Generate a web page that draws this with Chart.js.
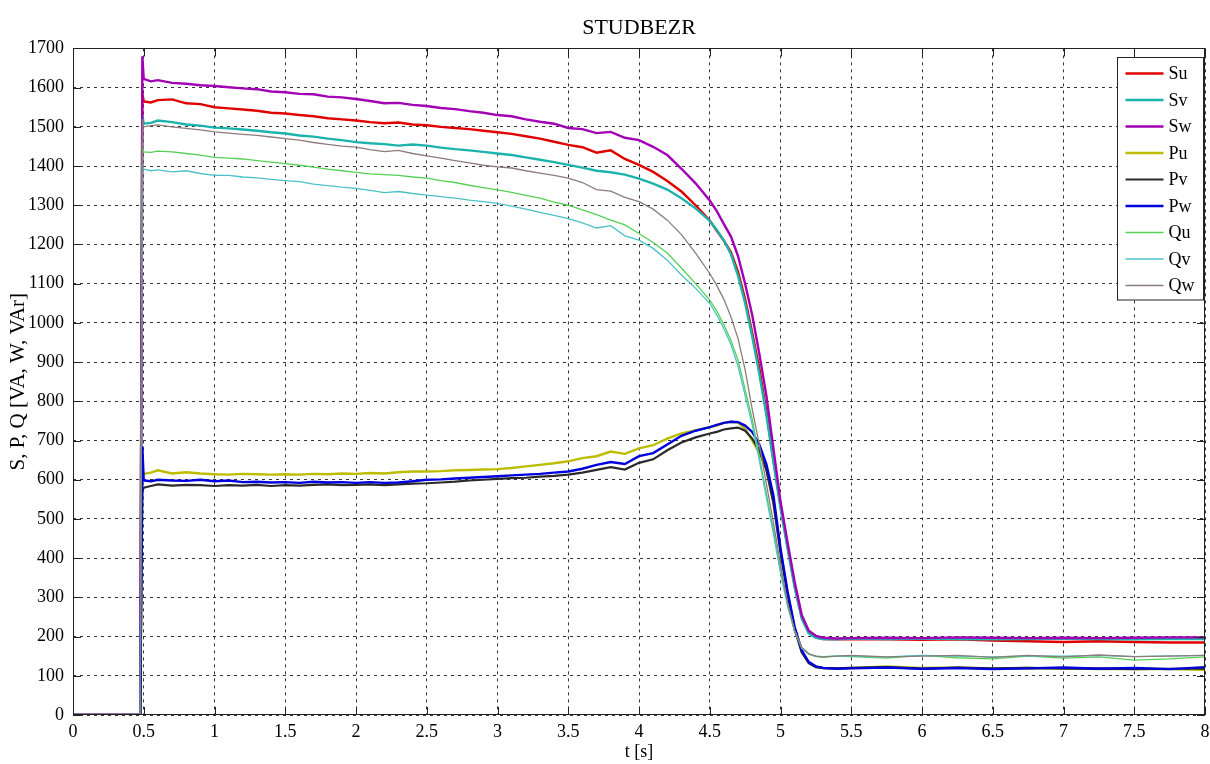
<!DOCTYPE html>
<html>
<head>
<meta charset="utf-8">
<script src="https://cdn.jsdelivr.net/npm/chart.js@4.4.0/dist/chart.umd.min.js"></script>
<style>
  html, body { margin: 0; padding: 0; background: #fff; }
</style>
</head>
<body>
<canvas id="powerChart" width="1210" height="764"></canvas>
<script>
// time axis [s]
const times = [
  0, 0.475, 0.49, 0.5, 0.55, 0.6, 0.7, 0.8, 0.9, 1.0,
  1.1, 1.2, 1.3, 1.4, 1.5, 1.6, 1.7, 1.8, 1.9, 2.0,
  2.1, 2.2, 2.3, 2.4, 2.5, 2.6, 2.7, 2.8, 2.9, 3.0,
  3.1, 3.2, 3.3, 3.4, 3.5, 3.6, 3.7, 3.8, 3.9, 4.0,
  4.1, 4.2, 4.3, 4.4, 4.5, 4.55, 4.6, 4.65, 4.7, 4.75,
  4.8, 4.85, 4.9, 4.95, 5.0, 5.05, 5.1, 5.15, 5.2, 5.25,
  5.3, 5.4, 5.5, 5.75, 6.0, 6.25, 6.5, 6.75, 7.0, 7.25,
  7.5, 7.75, 8.0
];

// apparent power S [VA]
const Su = [
  0, 0, 1585, 1565, 1562, 1568, 1570, 1560, 1558, 1550,
  1547, 1544, 1541, 1536, 1534, 1530, 1527, 1522, 1519, 1516,
  1512, 1509, 1511, 1506, 1504, 1500, 1497, 1494, 1490, 1486,
  1482, 1476, 1470, 1462, 1454, 1448, 1434, 1440, 1418, 1403,
  1385, 1362, 1335, 1300, 1261, 1235, 1210, 1180, 1130, 1060,
  975, 885, 775, 650, 535, 430, 330, 250, 210, 198,
  194, 193, 194, 193, 192, 193, 190, 188, 186, 188,
  186, 185, 185
];
const Sv = [
  0, 0, 1530, 1508, 1510, 1516, 1512, 1506, 1503, 1498,
  1496, 1493, 1490, 1486, 1483, 1478, 1475, 1470, 1466, 1461,
  1458, 1456, 1452, 1455, 1452, 1447, 1443, 1440, 1436, 1432,
  1428, 1422, 1416, 1410, 1403, 1396, 1388, 1384, 1378, 1368,
  1355, 1340, 1318, 1292, 1260, 1237, 1210, 1175, 1120, 1050,
  965, 870, 765, 645, 528, 424, 325, 245, 208, 197,
  194, 193, 195, 194, 195, 194, 193, 194, 195, 194,
  193, 194, 194
];
const Sw = [
  0, 0, 1680, 1622, 1616, 1619, 1612, 1610, 1606, 1604,
  1601, 1598, 1596, 1590, 1588, 1584, 1583, 1577, 1575, 1571,
  1566, 1560, 1561, 1556, 1553, 1548, 1545, 1540, 1536, 1530,
  1527, 1519, 1513, 1508, 1497, 1494, 1484, 1487, 1472, 1466,
  1449, 1428, 1393, 1356, 1312, 1285, 1252, 1220, 1170, 1100,
  1020, 922, 815, 680, 545, 440, 340, 255, 215, 202,
  197, 195, 196, 197, 196, 198, 197, 196, 197, 196,
  197, 198, 198
];

// active power P [W]
const Pu = [
  0, 0, 610, 615, 618, 624, 616, 619, 616, 614,
  613, 615, 614, 613, 614, 613, 615, 614, 616, 615,
  617, 616, 619, 621, 621, 622, 624, 625, 626, 627,
  630, 634, 638, 642, 647, 655, 660, 672, 666, 680,
  688, 705, 718, 726, 734, 738, 745, 748, 746, 730,
  700, 668, 630, 545, 420, 310, 220, 162, 133, 123,
  120, 119, 120, 124, 120, 121, 118, 120, 119, 117,
  118, 117, 115
];
const Pv = [
  0, 0, 570, 580, 584, 588, 585, 587, 586, 584,
  586, 585, 587, 584, 586, 585, 587, 588, 586, 587,
  588, 586, 588, 590, 591, 593, 595, 598, 600, 602,
  604, 605, 608, 610, 613, 618, 625, 632, 626, 643,
  652, 675, 695, 708, 718, 722, 728, 731, 733, 725,
  705, 675, 625, 540, 415, 305, 218, 160, 132, 122,
  120, 119, 120, 122, 118, 121, 119, 120, 118, 119,
  117, 118, 118
];
const Pw = [
  0, 0, 685, 598, 596, 600, 598, 597, 600, 596,
  598, 594, 595, 593, 594, 592, 595, 593, 594, 592,
  594, 592, 593, 596, 600, 601, 603, 605, 607, 609,
  611, 613, 615, 618, 621, 628, 638, 645, 640, 660,
  668, 690, 712, 725, 734, 740, 745, 748, 747, 738,
  722, 690, 640, 560, 425, 315, 225, 165, 135, 124,
  120, 118, 119, 121, 118, 120, 117, 119, 121, 118,
  120, 117, 122
];

// reactive power Q [VAr]
const Qu = [
  0, 0, 1450, 1436, 1435, 1438, 1436, 1432, 1428, 1422,
  1420, 1418, 1414, 1410, 1406, 1402, 1397, 1392, 1388, 1384,
  1380, 1378, 1376, 1372, 1369, 1363, 1358, 1351, 1345, 1339,
  1333, 1325, 1318, 1308, 1300, 1288, 1276, 1262, 1250, 1228,
  1205, 1178, 1140, 1100, 1058, 1030, 995, 955, 905, 830,
  755, 660, 565, 471, 370, 285, 215, 172, 156, 149,
  147, 150, 149, 145, 152, 146, 143, 150, 145, 148,
  140, 143, 148
];
const Qv = [
  0, 0, 1400, 1392, 1388, 1390, 1385, 1388, 1381, 1376,
  1376, 1372, 1370, 1366, 1363, 1360, 1354, 1350, 1346, 1343,
  1338, 1332, 1335, 1330, 1326, 1322, 1318, 1313, 1309, 1305,
  1298, 1290, 1282, 1274, 1266, 1255, 1242, 1248, 1222, 1211,
  1190, 1160, 1122, 1088, 1050, 1020, 985, 945, 890, 815,
  740, 650, 555, 462, 362, 278, 212, 170, 155, 150,
  149, 151, 150, 148, 152, 150, 148, 151, 150, 152,
  149, 151, 152
];
const Qw = [
  0, 0, 1520, 1500, 1503, 1505, 1500, 1496, 1492, 1487,
  1484, 1481, 1478, 1474, 1470, 1466, 1460, 1455, 1451, 1448,
  1442, 1437, 1440, 1432, 1426, 1420, 1414, 1408, 1402, 1398,
  1395, 1388, 1382, 1376, 1369, 1358, 1340, 1336, 1320, 1309,
  1290, 1262, 1225, 1178, 1126, 1095, 1060, 1015, 960, 880,
  780, 690, 590, 490, 385, 285, 215, 172, 156, 150,
  148, 150, 152, 148, 150, 152, 147, 152, 148, 153,
  149, 150, 152
];

const seriesNames = ['Su', 'Sv', 'Sw', 'Pu', 'Pv', 'Pw', 'Qu', 'Qv', 'Qw'];
const seriesValues = [Su, Sv, Sw, Pu, Pv, Pw, Qu, Qv, Qw];
const seriesColors = ['#e00000', '#1db3ad', '#a200b4', '#bcbc00', '#2a2a2a',
                      '#0000dc', '#55d055', '#4cc2c8', '#8c7c7c'];
const seriesWidths = [2.4, 2.4, 2.4, 2.4, 2.2, 2.4, 1.3, 1.3, 1.3];

const xTicksMax = 8;
const yTicksMax = 1700;

Chart.defaults.font.family = '"Liberation Serif", "Times New Roman", serif';
Chart.defaults.color = '#000';

// box around the plot, inward tick marks and the legend inside the axes
const matlabAxes = {
  id: 'matlabAxes',
  afterDatasetsDraw(chart) {
    const { ctx, chartArea: a, scales: { x, y } } = chart;
    ctx.save();
    ctx.strokeStyle = '#222';
    ctx.lineWidth = 1;
    ctx.setLineDash([]);
    ctx.strokeRect(Math.round(a.left) + 0.5, Math.round(a.top) + 0.5,
                   Math.round(a.width) - 1, Math.round(a.height) - 1);

    const tl = 8;
    ctx.beginPath();
    x.ticks.forEach(t => {
      const px = Math.round(x.getPixelForValue(t.value)) + 0.5;
      ctx.moveTo(px, a.bottom); ctx.lineTo(px, a.bottom - tl);
      ctx.moveTo(px, a.top); ctx.lineTo(px, a.top + tl);
    });
    y.ticks.forEach(t => {
      const py = Math.round(y.getPixelForValue(t.value)) + 0.5;
      ctx.moveTo(a.left, py); ctx.lineTo(a.left + tl, py);
      ctx.moveTo(a.right, py); ctx.lineTo(a.right - tl, py);
    });
    ctx.stroke();

    // legend
    const sets = chart.data.datasets;
    const bw = 86, rowH = 26.5;
    const bh = rowH * sets.length + 4;
    const bx = Math.round(a.right - bw - 2) + 0.5;
    const by = Math.round(a.top + 9) + 0.5;
    ctx.fillStyle = '#fff';
    ctx.fillRect(bx, by, bw, bh);
    ctx.strokeStyle = '#222';
    ctx.strokeRect(bx, by, bw, bh);
    ctx.font = '18px "Liberation Serif", "Times New Roman", serif';
    ctx.textBaseline = 'middle';
    ctx.textAlign = 'left';
    sets.forEach((ds, i) => {
      const ry = by + 16 + i * rowH;
      ctx.strokeStyle = ds.borderColor;
      ctx.lineWidth = ds.borderWidth;
      ctx.beginPath();
      ctx.moveTo(bx + 8, ry);
      ctx.lineTo(bx + 46, ry);
      ctx.stroke();
      ctx.fillStyle = '#000';
      ctx.fillText(ds.label, bx + 51, ry + 1);
    });
    ctx.restore();
  }
};

const datasets = seriesNames.map((name, i) => ({
  label: name,
  data: seriesValues[i].map((v, k) => ({ x: times[k], y: v })),
  borderColor: seriesColors[i],
  backgroundColor: seriesColors[i],
  borderWidth: seriesWidths[i],
  pointRadius: 0,
  tension: 0,
  fill: false,
  order: seriesNames.length - i
}));

new Chart(document.getElementById('powerChart'), {
  type: 'line',
  data: { datasets },
  plugins: [matlabAxes],
  options: {
    responsive: false,
    animation: false,
    layout: { padding: { left: 0, right: 5, top: 0, bottom: 0 } },
    plugins: {
      legend: { display: false },
      tooltip: { enabled: false },
      title: {
        display: true,
        fullSize: false,
        text: 'STUDBEZR',
        color: '#000',
        font: { size: 22, weight: 'normal' },
        padding: { top: 15, bottom: 7 }
      }
    },
    scales: {
      x: {
        type: 'linear',
        min: 0,
        max: xTicksMax,
        afterFit: s => { s.height = 49; s.paddingRight = 0; s.paddingLeft = 0; },
        ticks: {
          stepSize: 0.5,
          autoSkip: false,
          maxRotation: 0,
          padding: 6,
          font: { size: 18 },
          callback: v => String(v)
        },
        grid: { color: '#333', lineWidth: 1, drawTicks: false },
        border: { display: false, dash: [3, 4] },
        title: { display: true, text: 't [s]', font: { size: 18 }, padding: { top: 0, bottom: 1 } }
      },
      y: {
        min: 0,
        max: yTicksMax,
        afterFit: s => { s.width = 73; },
        ticks: {
          stepSize: 100,
          autoSkip: false,
          padding: 9,
          font: { size: 18 },
          callback: v => String(v)
        },
        grid: { color: '#333', lineWidth: 1, drawTicks: false },
        border: { display: false, dash: [3, 4] },
        title: { display: true, text: 'S, P, Q [VA, W, VAr]', font: { size: 21 }, padding: { top: 6, bottom: 0 } }
      }
    }
  }
});
</script>
</body>
</html>
